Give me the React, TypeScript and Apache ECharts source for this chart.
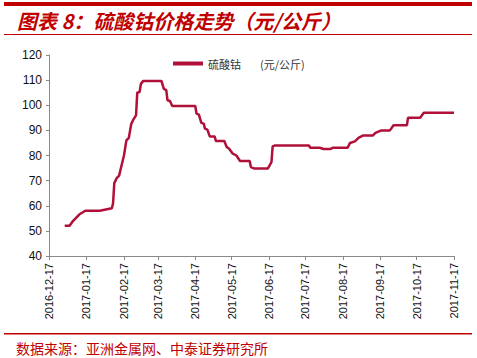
import React, { useEffect, useRef } from "react";
import * as echarts from "echarts";

const seriesName = "硫酸钴";
const unitLabel = "(元/公斤)";
const titleText = "图表 8：硫酸钴价格走势（元/公斤）";
const sourceText = "数据来源：亚洲金属网、中泰证券研究所";

const tickLabels = [
  "2016-12-17", "2017-01-17", "2017-02-17", "2017-03-17", "2017-04-17", "2017-05-17",
  "2017-06-17", "2017-07-17", "2017-08-17", "2017-09-17", "2017-10-17", "2017-11-17",
];

const dates = [
  "2016-12-30", "2017-01-03", "2017-01-06", "2017-01-11", "2017-01-16", "2017-01-28",
  "2017-02-02", "2017-02-07", "2017-02-08", "2017-02-09", "2017-02-11", "2017-02-13",
  "2017-02-15", "2017-02-17", "2017-02-18", "2017-02-19", "2017-02-21", "2017-02-23",
  "2017-02-25", "2017-02-27", "2017-02-28", "2017-03-02", "2017-03-03", "2017-03-05",
  "2017-03-20", "2017-03-22", "2017-03-24", "2017-03-25", "2017-03-27", "2017-03-29",
  "2017-04-17", "2017-04-18", "2017-04-20", "2017-04-22", "2017-04-24", "2017-04-25",
  "2017-04-27", "2017-04-29", "2017-05-03", "2017-05-04", "2017-05-11", "2017-05-13",
  "2017-05-15", "2017-05-18", "2017-05-21", "2017-05-24", "2017-06-01", "2017-06-02",
  "2017-06-05", "2017-06-16", "2017-06-19", "2017-06-20", "2017-06-22", "2017-07-20",
  "2017-07-21", "2017-07-29", "2017-08-01", "2017-08-07", "2017-08-09", "2017-08-21",
  "2017-08-23", "2017-08-27", "2017-08-30", "2017-09-03", "2017-09-11", "2017-09-13",
  "2017-09-18", "2017-09-25", "2017-09-28", "2017-10-09", "2017-10-10", "2017-10-20",
  "2017-10-23", "2017-11-17",
];

const prices = [
  52, 52, 54, 56.5, 58, 58,
  58.5, 59, 61, 69, 71, 72,
  76, 80, 83, 86, 87, 92.5,
  94.5, 96, 105, 105.3, 108.5, 109.7,
  109.7, 106.5, 106, 102, 101.7, 99.7,
  99.7, 96.7, 96.3, 93, 92.7, 90.7,
  90.3, 87.6, 87.6, 85.8, 85.8, 83.4,
  82.7, 80.7, 80, 77.8, 77.8, 75.4,
  74.8, 74.8, 77.4, 83.6, 84, 84,
  83.1, 83.1, 82.6, 82.6, 83.1, 83.1,
  85, 85.6, 87, 88, 88, 89,
  90, 90, 92, 92, 95, 95,
  97, 97,
];

const yMin = 40;
const yMax = 120;
const yStep = 10;

function parseDate(s: string): number {
  const [y, m, d] = s.split("-").map(Number);
  return Date.UTC(y, m - 1, d);
}

function fmt(ts: number): string {
  const d = new Date(ts);
  const p = (n: number) => (n < 10 ? "0" + n : "" + n);
  return d.getUTCFullYear() + "-" + p(d.getUTCMonth() + 1) + "-" + p(d.getUTCDate());
}

export default function App() {
  const ref = useRef<HTMLDivElement>(null);
  useEffect(() => {
    if (!ref.current) return;
    const chart = echarts.init(ref.current, undefined, { renderer: "svg" });
    const tickVals = tickLabels.map(parseDate);
    const red = "#C00000";
    chart.setOption({
      animation: false,
      backgroundColor: "#ffffff",
      textStyle: { fontFamily: "Liberation Sans, Arial, sans-serif" },
      grid: { left: 49, right: 23, top: 55, bottom: 102, containLabel: false },
      legend: {
        show: true,
        left: 173,
        top: 58,
        padding: 0,
        itemWidth: 30,
        itemHeight: 4,
        icon: "rect",
        textStyle: { fontSize: 11, color: "#333", fontFamily: "Noto Sans CJK SC" },
        data: [seriesName],
      },
      xAxis: {
        type: "value",
        min: tickVals[0],
        max: tickVals[tickVals.length - 1],
        axisLine: { show: true, lineStyle: { color: "#898989", width: 1 } },
        axisTick: { show: true, customValues: tickVals, length: 4, lineStyle: { color: "#898989" } },
        axisLabel: {
          customValues: tickVals,
          rotate: 90,
          fontSize: 11,
          color: "#111",
          margin: 7,
          formatter: (v: number) => fmt(v),
          fontFamily: "Liberation Sans, Arial, sans-serif",
        },
        splitLine: { show: false },
      },
      yAxis: {
        type: "value",
        min: yMin,
        max: yMax,
        interval: yStep,
        axisLine: { show: true, lineStyle: { color: "#898989", width: 1 } },
        axisTick: { show: true, length: 3, lineStyle: { color: "#898989" } },
        axisLabel: { fontSize: 12, color: "#111", margin: 7, fontFamily: "Liberation Sans, Arial, sans-serif" },
        splitLine: { show: false },
      },
      series: [
        {
          name: seriesName,
          type: "line",
          showSymbol: false,
          symbol: "none",
          data: dates.map((d, i) => [parseDate(d), prices[i]]),
          lineStyle: { color: "#B0103A", width: 2.5 },
          itemStyle: { color: "#B0103A" },
        },
      ],
      graphic: [
        { type: "rect", shape: { x: 4, y: 2, width: 468, height: 4 }, style: { fill: red } },
        {
          type: "text",
          left: 17,
          top: 10,
          style: {
            text: titleText,
            fill: red,
            font: "italic bold 20px 'Noto Sans CJK SC'",
          },
        },
        { type: "rect", shape: { x: 4, y: 34, width: 468, height: 1 }, style: { fill: red } },
        {
          type: "text",
          left: 260,
          top: 58,
          style: {
            text: unitLabel,
            fill: "#333",
            font: "11px 'Noto Sans CJK SC'",
          },
        },
        { type: "rect", shape: { x: 4, y: 333, width: 468, height: 1.5 }, style: { fill: red } },
        {
          type: "text",
          left: 16,
          top: 341,
          style: {
            text: sourceText,
            fill: red,
            font: "14px 'Noto Sans CJK SC'",
          },
        },
      ],
    });
    return () => chart.dispose();
  }, []);
  return <div ref={ref} style={{ width: 477, height: 358, position: "absolute", left: 0, top: 0 }} />;
}
